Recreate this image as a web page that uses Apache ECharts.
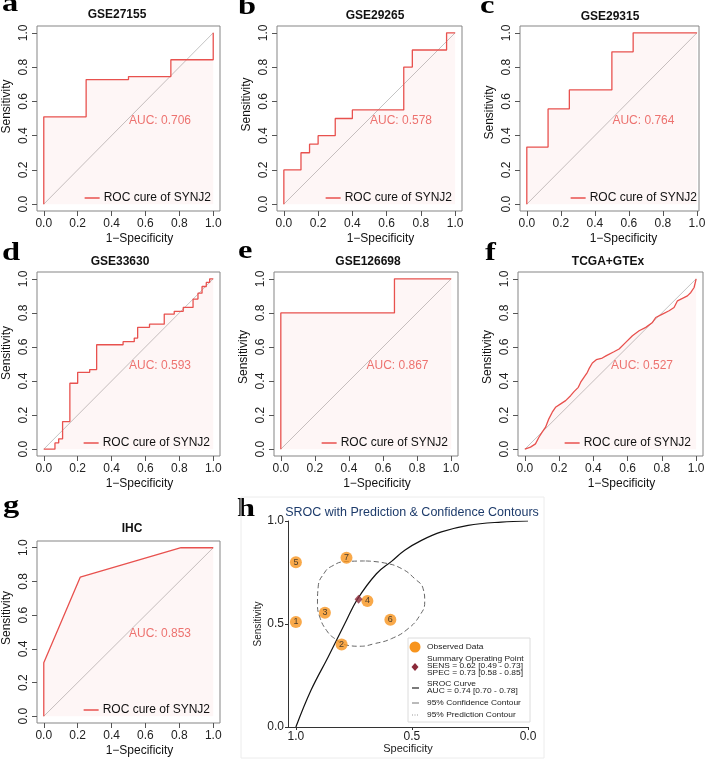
<!DOCTYPE html>
<html><head><meta charset="utf-8">
<script src="https://cdn.jsdelivr.net/npm/echarts@6/dist/echarts.min.js"></script>
<style>html,body{margin:0;padding:0;background:#fff}#c{width:709px;height:766px}</style>
</head><body><div id="c"></div>
<script>
// ---------------- DATA ----------------
const titles = ['GSE27155','GSE29265','GSE29315','GSE33630','GSE126698','TCGA+GTEx','IHC'];
const aucValues = ['0.706','0.578','0.764','0.593','0.867','0.527','0.853'];
const panelLetters = ['a','b','c','d','e','f','g','h'];
const legendName = 'ROC cure of SYNJ2';
const fprTicks = [0,0.2,0.4,0.6,0.8,1.0];
const diagonal = [[0,0],[1,1]];
const aucPos = [0.5,0.49];

const rocA = [[0,0],[0,0.51],[0.25,0.51],[0.25,0.727],[0.5,0.727],[0.5,0.745],[0.75,0.745],[0.75,0.843],[1,0.843],[1,1]];
const rocB = [[0,0],[0,0.2],[0.1,0.2],[0.1,0.3],[0.15,0.3],[0.15,0.35],[0.2,0.35],[0.2,0.4],[0.3,0.4],[0.3,0.5],[0.4,0.5],[0.4,0.55],[0.7,0.55],[0.7,0.8],[0.75,0.8],[0.75,0.9],[0.95,0.9],[0.95,1],[1,1]];
const rocC = [[0,0],[0,0.333],[0.125,0.333],[0.125,0.556],[0.25,0.556],[0.25,0.667],[0.5,0.667],[0.5,0.889],[0.625,0.889],[0.625,1],[1,1]];
const rocD = [[0,0],[0.066,0],[0.066,0.037],[0.088,0.037],[0.088,0.061],[0.111,0.061],[0.111,0.162],[0.154,0.162],[0.154,0.387],[0.2,0.387],[0.2,0.451],[0.271,0.451],[0.271,0.467],[0.312,0.467],[0.312,0.613],[0.468,0.613],[0.468,0.631],[0.534,0.631],[0.534,0.652],[0.554,0.652],[0.554,0.715],[0.624,0.715],[0.624,0.734],[0.711,0.734],[0.711,0.793],[0.77,0.793],[0.77,0.809],[0.823,0.809],[0.823,0.832],[0.881,0.832],[0.881,0.881],[0.91,0.881],[0.91,0.916],[0.934,0.916],[0.934,0.955],[0.959,0.955],[0.959,0.979],[0.979,0.979],[0.979,1],[1,1]];
const rocE = [[0,0],[0,0.8],[0.667,0.8],[0.667,1],[1,1]];
const rocF = [[0,0],[0.004,0.002],[0.033,0.012],[0.062,0.031],[0.082,0.07],[0.101,0.1],[0.121,0.129],[0.14,0.178],[0.16,0.217],[0.179,0.246],[0.209,0.266],[0.238,0.285],[0.267,0.314],[0.287,0.338],[0.312,0.363],[0.326,0.393],[0.345,0.422],[0.365,0.451],[0.374,0.471],[0.394,0.506],[0.417,0.525],[0.452,0.535],[0.476,0.549],[0.52,0.572],[0.55,0.588],[0.589,0.627],[0.628,0.666],[0.667,0.695],[0.706,0.715],[0.745,0.744],[0.764,0.773],[0.803,0.793],[0.842,0.8125],[0.871,0.832],[0.891,0.871],[0.92,0.885],[0.949,0.9],[0.969,0.92],[0.988,0.949],[1,1]];
const rocG = [[0,0],[0,0.318],[0.215,0.825],[0.81,1],[1,1]];

// SROC panel (h)
const studyIds = ['1','2','3','4','5','6','7'];
const studySpec = [1.0,0.803,0.875,0.692,1.0,0.593,0.782];
const studySens = [0.51,0.401,0.555,0.612,0.80,0.521,0.822];
const summaryPoint = [0.73,0.62];
const srocCurve = [[1.0,0],[0.935,0.178],[0.861,0.34],[0.789,0.502],[0.735,0.62],[0.653,0.744],[0.588,0.804],[0.531,0.858],[0.459,0.906],[0.373,0.947],[0.258,0.979],[0.115,0.995],[0,1.0]];
const confContour = [[0.703,0.806],[0.789,0.803],[0.846,0.78],[0.875,0.752],[0.904,0.68],[0.907,0.599],[0.897,0.534],[0.868,0.469],[0.832,0.429],[0.775,0.396],[0.725,0.392],[0.66,0.405],[0.588,0.429],[0.517,0.477],[0.466,0.542],[0.445,0.607],[0.452,0.672],[0.488,0.72],[0.545,0.769],[0.617,0.796],[0.703,0.806]];
const srocTicks = [0,0.5,1.0];
const hTitle = 'SROC with Prediction & Confidence Contours';
const hLegendTexts = ['Observed Data','Summary Operating Point','SENS = 0.62 [0.49 - 0.73]','SPEC = 0.73 [0.58 - 0.85]','SROC Curve','AUC = 0.74 [0.70 - 0.78]','95% Confidence Contour','95% Prediction Contour'];

// ---------------- LAYOUT / STYLE ----------------
const W = 709;
const FONT = '"Liberation Sans", Arial, sans-serif';
const RED = '#E8514E';
const ORANGE = '#F7941D';
const curves = [rocA,rocB,rocC,rocD,rocE,rocF,rocG];
const boxes = [
  {l:37, t:26, w:183, h:185, xmax:1.04, title:[117,15], xs:11, ys:12, lg:9},
  {l:277,t:26, w:185, h:185, xmax:1.04, title:[375,16], xs:11, ys:14, lg:10},
  {l:520,t:26, w:179, h:185, xmax:1.012,title:[610,17], xs:14, ys:6, lg:2},
  {l:37, t:272,w:183, h:184, xmax:1.04, title:[120,262],xs:11, ys:11, lg:10},
  {l:274,t:272,w:184, h:184, xmax:1.04, title:[368,262],xs:11, ys:7, lg:10},
  {l:518,t:272,w:185, h:184, xmax:1.04, title:[608,262],xs:11, ys:7, lg:12},
  {l:37, t:541,w:183, h:182, xmax:1.04, title:[132,529],xs:11, ys:14, lg:10}
];
const letterPos = [[2,5],[238,8],[480,7],[2,254],[238,252],[485,254],[3,507],[237,510]];

const grids=[], xAxes=[], yAxes=[], series=[], legends=[], graphics=[];

boxes.forEach((b,i)=>{
  grids.push({left:b.l, top:b.t, width:b.w, height:b.h, show:true, borderColor:'#858585', borderWidth:1, backgroundColor:'transparent'});
  xAxes.push({gridIndex:i, type:'value', min:-0.04, max:b.xmax,
    name:'1\u2212Specificity', nameLocation:'middle', nameGap:22,
    nameTextStyle:{fontSize:12, color:'#111', fontFamily:FONT, padding:[0,0,0,2*b.xs]},
    axisLine:{show:false, onZero:false},
    axisTick:{show:true, customValues:fprTicks, length:5, lineStyle:{color:'#555'}},
    axisLabel:{customValues:fprTicks, formatter:v=>v.toFixed(1), fontSize:12, color:'#222', margin:7, fontFamily:FONT},
    splitLine:{show:false}});
  yAxes.push({gridIndex:i, type:'value', min:-0.04, max:1.04,
    name:'Sensitivity', nameLocation:'middle', nameGap:24,
    nameTextStyle:{fontSize:12, color:'#111', fontFamily:FONT, padding:[0,0,0,2*b.ys]},
    axisLine:{show:false, onZero:false},
    axisTick:{show:true, customValues:fprTicks, length:5, lineStyle:{color:'#555'}},
    axisLabel:{customValues:fprTicks, formatter:v=>v.toFixed(1), fontSize:12, color:'#222', margin:7, rotate:90, fontFamily:FONT},
    splitLine:{show:false}});
  series.push({type:'line', name:'diag'+i, xAxisIndex:i, yAxisIndex:i, data:diagonal, symbol:'none',
    lineStyle:{color:'#c4c4c4', width:1}, silent:true, z:2});
  series.push({type:'line', name:legendName, xAxisIndex:i, yAxisIndex:i, data:curves[i], symbol:'none',
    lineStyle:{color:RED, width:1.3}, itemStyle:{color:RED},
    areaStyle:{color:'rgba(240,70,70,0.07)'}, silent:true, z:3});
  series.push({type:'scatter', name:'auc'+i, xAxisIndex:i, yAxisIndex:i, data:[aucPos], symbolSize:1,
    itemStyle:{color:'transparent'}, silent:true, z:4,
    label:{show:true, position:'right', distance:0, formatter:'AUC: '+aucValues[i], color:RED, fontSize:12, fontFamily:FONT}});
  legends.push({data:[legendName], icon:'rect', right: W-(b.l+b.w)+b.lg, top: b.t+b.h-19, itemWidth:15, itemHeight:1.5, itemGap:0,
    padding:0, selectedMode:false, itemStyle:{color:RED, borderWidth:0}, textStyle:{fontSize:12, color:'#111', fontFamily:FONT, padding:[0,0,0,-1]}});
  graphics.push({type:'text', x:b.title[0], y:b.title[1], style:{text:titles[i], font:'bold 12px '+FONT, fill:'#111',
    textAlign:'center', textVerticalAlign:'middle', align:'center', verticalAlign:'middle'}});
});

// panel letters
panelLetters.forEach((L,i)=>{
  graphics.push({type:'text', x:letterPos[i][0], y:letterPos[i][1], scaleX:1.3,
    style:{text:L, font:'bold 25px "Liberation Serif", "DejaVu Serif", serif', fill:'#000',
    textAlign:'left', textVerticalAlign:'middle', align:'left', verticalAlign:'middle'}});
});

// ---------- panel h (SROC) ----------
const hi = 7;
grids.push({left:288, top:521, width:240, height:206, show:false});
xAxes.push({gridIndex:hi, type:'value', min:0, max:1.034, inverse:true,
  name:'Specificity', nameLocation:'middle', nameGap:14, nameTextStyle:{fontSize:11, color:'#222', fontFamily:FONT},
  axisLine:{show:true, onZero:false, lineStyle:{color:'#333', width:1}},
  axisTick:{show:true, customValues:srocTicks, length:3, lineStyle:{color:'#333'}},
  axisLabel:{customValues:srocTicks, formatter:v=>v.toFixed(1), fontSize:12, color:'#222', margin:4, fontFamily:FONT},
  splitLine:{show:false}});
yAxes.push({gridIndex:hi, type:'value', min:0, max:1,
  name:'Sensitivity', nameLocation:'middle', nameGap:24, nameTextStyle:{fontSize:10, color:'#222', fontFamily:FONT},
  axisLine:{show:true, onZero:false, lineStyle:{color:'#333', width:1}},
  axisTick:{show:true, customValues:srocTicks, length:3, lineStyle:{color:'#333'}},
  axisLabel:{customValues:srocTicks, formatter:v=>v.toFixed(1), fontSize:12, color:'#222', margin:4, fontFamily:FONT},
  splitLine:{show:false}});
series.push({type:'line', name:'SROC Curve', xAxisIndex:hi, yAxisIndex:hi, data:srocCurve, symbol:'none', smooth:0.4,
  lineStyle:{color:'#111', width:1.2}, silent:true, z:3});
series.push({type:'line', name:'95% Confidence Contour', xAxisIndex:hi, yAxisIndex:hi, data:confContour, symbol:'none', smooth:0.5,
  lineStyle:{color:'#666', width:1, type:[5,3]}, silent:true, z:3});
series.push({type:'scatter', name:'Observed Data', xAxisIndex:hi, yAxisIndex:hi,
  data:studySpec.map((s,k)=>[s, studySens[k], studyIds[k]]), symbolSize:12,
  itemStyle:{color:ORANGE}, silent:true, z:5,
  label:{show:true, position:'inside', formatter:p=>p.data[2], fontSize:9, color:'#222', fontFamily:FONT}});
series.push({type:'scatter', name:'Summary Operating Point', xAxisIndex:hi, yAxisIndex:hi, data:[summaryPoint],
  symbol:'diamond', symbolSize:[8,9], itemStyle:{color:'#8B2A3A'}, silent:true, z:6});

// h title, frame and legend (decoration)
graphics.push({type:'rect', shape:{x:241, y:497, width:303, height:261}, style:{fill:'none', stroke:'#ececec', lineWidth:1}, z:0});
graphics.push({type:'text', x:412, y:513, style:{text:hTitle, font:'12.5px '+FONT, fill:'#1d3b6b',
  textAlign:'center', textVerticalAlign:'middle', align:'center', verticalAlign:'middle'}});
graphics.push({type:'rect', shape:{x:408, y:638, width:122, height:84}, style:{fill:'#fff', stroke:'#dcdcdc', lineWidth:1}, z:10});
graphics.push({type:'circle', shape:{cx:415, cy:647, r:5.5}, style:{fill:ORANGE}, z:11});
graphics.push({type:'polygon', shape:{points:[[415,663],[418.5,667],[415,671],[411.5,667]]}, style:{fill:'#8B2A3A'}, z:11});
graphics.push({type:'line', shape:{x1:412, y1:688, x2:419, y2:688}, style:{stroke:'#222', lineWidth:1.2}, z:11});
graphics.push({type:'line', shape:{x1:412, y1:703, x2:419, y2:703}, style:{stroke:'#777', lineWidth:1}, z:11});
graphics.push({type:'line', shape:{x1:412, y1:715, x2:419, y2:715}, style:{stroke:'#999', lineWidth:1, lineDash:[1,1.5]}, z:11});
const hLegendY = [647,659,666,673,684,691,703,715];
hLegendTexts.forEach((t,k)=>{
  graphics.push({type:'text', x:427, y:hLegendY[k], z:11, scaleX:1.12, style:{text:t, font:'7.5px '+FONT, fill:'#222',
    textAlign:'left', textVerticalAlign:'middle', align:'left', verticalAlign:'middle'}});
});

const chart = echarts.init(document.getElementById('c'), null, {renderer:'canvas'});
chart.setOption({
  animation:false,
  backgroundColor:'#fff',
  textStyle:{fontFamily:FONT},
  grid:grids, xAxis:xAxes, yAxis:yAxes, series:series, legend:legends, graphic:graphics
});
</script></body></html>
